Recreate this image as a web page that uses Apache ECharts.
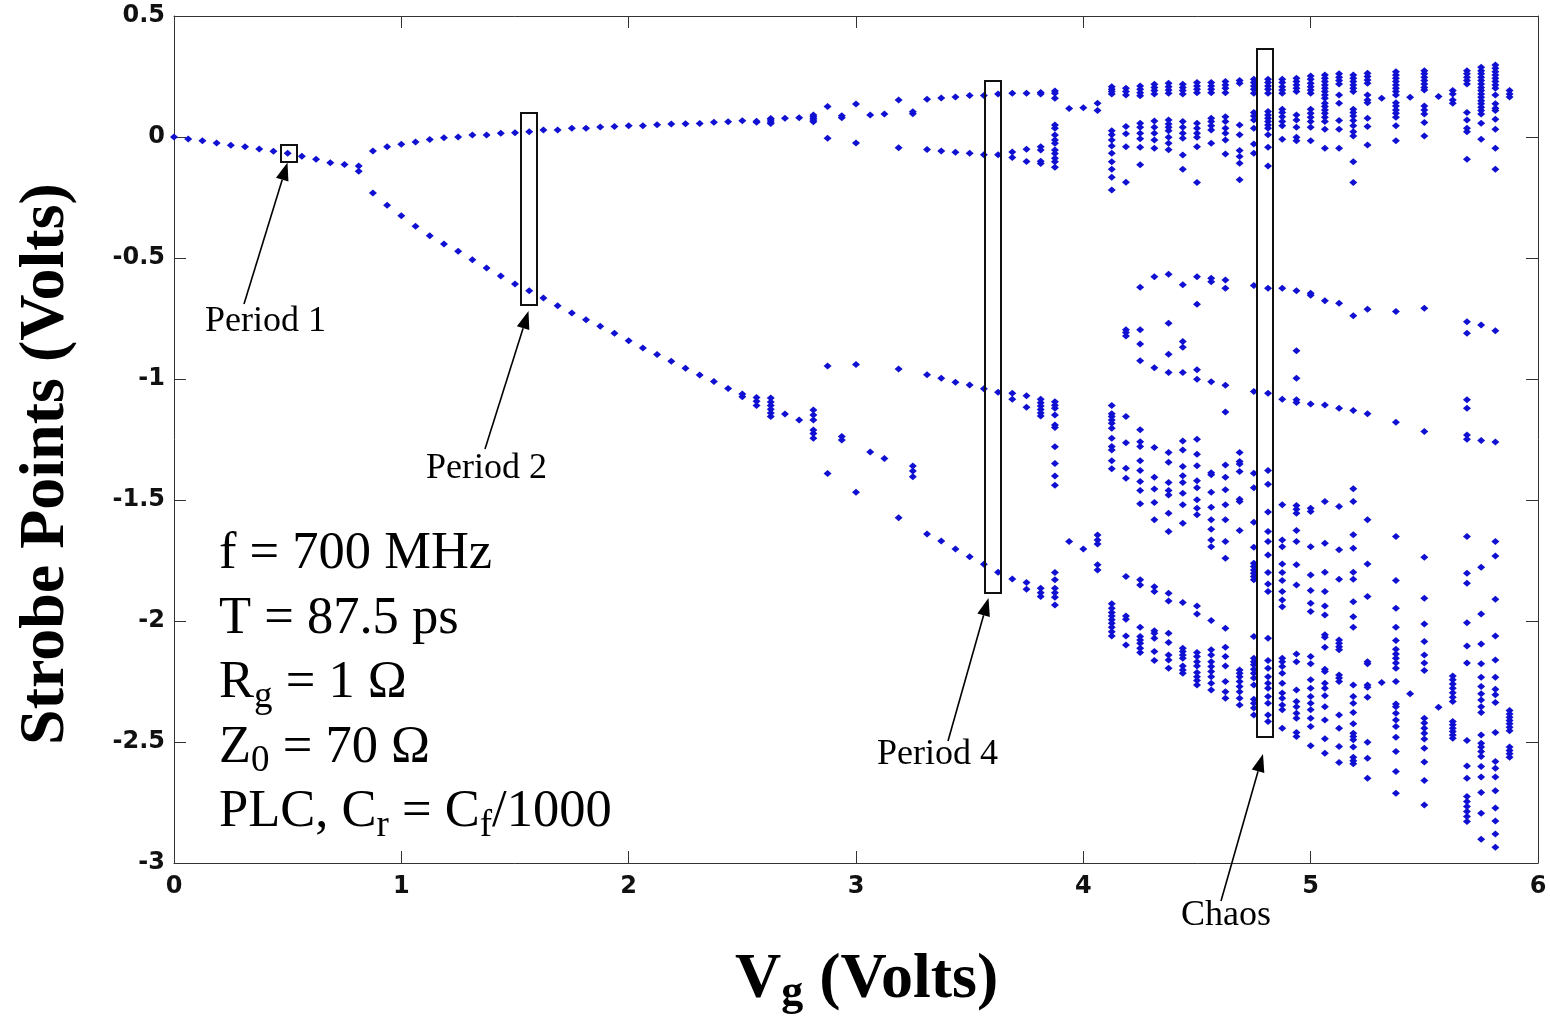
<!DOCTYPE html>
<html>
<head>
<meta charset="utf-8">
<script src="https://cdn.jsdelivr.net/npm/echarts@6/dist/echarts.min.js"></script>
<style>
html,body{margin:0;padding:0;background:#fff;}
#chart{width:1550px;height:1024px;}
</style>
</head>
<body>
<div id="chart"></div>
<script>
// ---------------- DATA ----------------
// Each row: [Vg, strobe value 1, strobe value 2, ...]
const xTickValues = [0, 1, 2, 3, 4, 5, 6];
const yTickValues = [0.5, 0, -0.5, -1, -1.5, -2, -2.5, -3];

const period1Points = [
  [0, 0], [0.0625, -0.008], [0.125, -0.015], [0.1875, -0.025], [0.25, -0.034],
  [0.3125, -0.040], [0.375, -0.050], [0.4375, -0.059], [0.5, -0.067], [0.5625, -0.080],
  [0.625, -0.092], [0.6875, -0.106], [0.75, -0.114], [0.8125, -0.120, -0.142]
];

const period2Points = [
  [0.875, -0.058, -0.231], [0.9375, -0.040, -0.282], [1.0, -0.030, -0.325],
  [1.0625, -0.021, -0.369], [1.125, -0.010, -0.408], [1.1875, -0.003, -0.442],
  [1.25, 0.000, -0.472], [1.3125, 0.008, -0.507], [1.375, 0.008, -0.541],
  [1.4375, 0.015, -0.574], [1.5, 0.018, -0.607], [1.5625, 0.022, -0.635],
  [1.625, 0.029, -0.665], [1.6875, 0.029, -0.697], [1.75, 0.036, -0.727],
  [1.8125, 0.036, -0.755], [1.875, 0.041, -0.782], [1.9375, 0.043, -0.811],
  [2.0, 0.047, -0.842], [2.0625, 0.047, -0.872], [2.125, 0.051, -0.899],
  [2.1875, 0.054, -0.927], [2.25, 0.055, -0.956], [2.3125, 0.056, -0.983],
  [2.375, 0.061, -1.010], [2.4375, 0.063, -1.039], [2.5, 0.067, -1.062, -1.073],
  [2.5625, 0.065, 0.061, -1.076, -1.092, -1.109],
  [2.625, 0.076, 0.070, 0.062, 0.056, -1.079, -1.095, -1.110, -1.125, -1.140, -1.155],
  [2.6875, 0.077, -1.145], [2.75, 0.080, -1.169],
  [2.8125, 0.091, 0.084, 0.077, 0.070, 0.063, -1.128, -1.149, -1.169, -1.211, -1.225, -1.245]
];

const period4Points = [
  [2.875, 0.126, -0.005, -0.946, -1.390],
  [2.9375, 0.088, 0.080, -1.238, -1.252],
  [3.0, 0.136, -0.025, -0.940, -1.468],
  [3.0625, 0.091, -1.302],
  [3.125, 0.095, -1.329],
  [3.1875, 0.153, -0.044, -0.959, -1.573],
  [3.25, 0.104, 0.096, -1.360, -1.380, -1.404],
  [3.3125, 0.156, -0.052, -0.982, -1.640],
  [3.375, 0.161, -0.058, -0.997, -1.669],
  [3.4375, 0.165, -0.063, -1.013, -1.702],
  [3.5, 0.171, -0.067, -1.025, -1.735],
  [3.5625, 0.171, -0.073, -1.040, -1.766],
  [3.625, 0.178, -0.073, -1.055, -1.799],
  [3.6875, 0.181, -0.062, -0.085, -1.059, -1.084, -1.826],
  [3.75, 0.181, -0.051, -0.101, -1.069, -1.117, -1.841, -1.869],
  [3.8125, 0.184, 0.178, -0.040, -0.054, -0.100, -0.109, -1.084, -1.098, -1.112, -1.126, -1.140, -1.153, -1.865, -1.883, -1.899],
  [3.875, 0.190, 0.181, 0.160, 0.050, 0.036, 0.008, -0.012, -0.026, -0.054, -0.068, -0.088, -0.102, -0.125,
    -1.094, -1.108, -1.121, -1.149, -1.190, -1.200, -1.280, -1.349, -1.401, -1.439,
    -1.800, -1.830, -1.865, -1.883, -1.902, -1.934],
  [3.9375, 0.118, -1.672],
  [4.0, 0.121, -1.702],
  [4.0625, 0.139, 0.109, -1.645, -1.665, -1.682, -1.768, -1.789]
];

const chaosPoints = [
  [4.125, 0.208, 0.197, 0.188, 0.178, 0.026, 0.009, -0.012, -0.037, -0.067, -0.102, -0.133, -0.166, -0.219,
    -1.110, -1.144, -1.155, -1.169, -1.183, -1.203, -1.245, -1.279, -1.293, -1.338, -1.371,
    -1.929, -1.947, -1.965, -1.979, -1.995, -2.009, -2.026, -2.044, -2.062],
  [4.1875, 0.201, 0.188, 0.174, 0.043, 0.013, -0.040, -0.187, -0.797, -0.808, -0.822,
    -1.155, -1.263, -1.369, -1.410, -1.816, -1.979, -1.993, -2.062, -2.099],
  [4.25, 0.211, 0.197, 0.183, 0.170, 0.057, 0.040, 0.015, -0.007, -0.042, -0.115,
    -0.621, -0.797, -0.855, -0.925, -1.210, -1.259, -1.279, -1.338, -1.378, -1.424, -1.461, -1.516,
    -1.830, -1.851, -2.026, -2.064, -2.078, -2.092, -2.113, -2.130],
  [4.3125, 0.218, 0.205, 0.192, 0.178, 0.066, 0.040, 0.015, -0.012, -0.047, -0.577, -0.953,
    -1.283, -1.406, -1.455, -1.510, -1.582, -1.858, -1.878, -2.040, -2.051, -2.071, -2.126, -2.163],
  [4.375, 0.222, 0.208, 0.194, 0.181, 0.070, 0.054, 0.040, 0.026, -0.001, -0.026, -0.053,
    -0.567, -0.770, -0.898, -0.973, -1.304, -1.344, -1.428, -1.461, -1.479, -1.555, -1.630,
    -1.885, -1.917, -2.051, -2.089, -2.140, -2.161, -2.195],
  [4.4375, 0.218, 0.205, 0.192, 0.178, 0.064, 0.040, 0.015, -0.005, -0.074, -0.133,
    -0.611, -0.845, -0.869, -0.973, -1.256, -1.293, -1.362, -1.400, -1.428, -1.472, -1.520, -1.596,
    -1.924, -2.113, -2.126, -2.140, -2.154, -2.186, -2.202, -2.216],
  [4.5, 0.225, 0.211, 0.197, 0.183, 0.057, 0.036, 0.015, -0.001, -0.040, -0.188,
    -0.577, -0.691, -0.962, -1.001, -1.249, -1.311, -1.358, -1.420, -1.449, -1.499, -1.534, -1.561,
    -1.938, -1.971, -2.130, -2.147, -2.168, -2.186, -2.213, -2.230, -2.246, -2.264],
  [4.5625, 0.225, 0.211, 0.197, 0.183, 0.077, 0.064, 0.046, 0.029, -0.026,
    -0.584, -0.598, -1.011, -1.387, -1.396, -1.468, -1.530, -1.582, -1.621,
    -1.665, -1.693, -1.998, -2.119, -2.140, -2.168, -2.188, -2.209, -2.230, -2.257, -2.285],
  [4.625, 0.229, 0.215, 0.201, 0.183, 0.084, 0.064, 0.036, 0.015, -0.012, -0.070,
    -0.591, -0.625, -1.026, -1.136, -1.355, -1.406, -1.458, -1.520, -1.582,
    -1.672, -1.741, -2.030, -2.108, -2.147, -2.186, -2.250, -2.292, -2.319],
  [4.6875, 0.233, 0.222, 0.050, 0.009, -0.056, -0.081, -0.108, -0.177,
    -1.304, -1.341, -1.351, -1.382, -1.497, -1.506, -1.626,
    -2.202, -2.216, -2.230, -2.250, -2.271, -2.292, -2.319, -2.347],
  [4.75, 0.239, 0.225, 0.211, 0.197, 0.181, 0.101, 0.087, 0.070, 0.036, -0.029, -0.067,
    -0.614, -1.052, -1.389, -1.449, -1.592, -1.695, -1.761, -1.775, -1.789, -1.803, -1.816, -1.830,
    -2.064, -2.154, -2.168, -2.181, -2.199, -2.216, -2.236, -2.264, -2.323, -2.340, -2.360, -2.388],
  [4.8125, 0.239, 0.225, 0.211, 0.197, 0.181, 0.105, 0.091, 0.077, 0.064, 0.050, 0.036, 0.009, -0.042, -0.120,
    -0.625, -1.059, -1.378, -1.435, -1.550, -1.630, -1.672, -1.727, -1.800, -1.847, -1.878,
    -2.071, -2.163, -2.195, -2.230, -2.257, -2.278, -2.312, -2.340, -2.388, -2.415],
  [4.875, 0.239, 0.225, 0.208, 0.194, 0.181, 0.115, 0.101, 0.084, 0.064, 0.046, -0.009,
    -0.625, -1.084, -1.520, -1.665, -1.693, -1.764, -1.800, -1.833, -1.878, -1.913, -1.941,
    -2.154, -2.168, -2.188, -2.216, -2.257, -2.298, -2.319, -2.347, -2.367, -2.443],
  [4.9375, 0.243, 0.229, 0.215, 0.201, 0.188, 0.091, 0.070, 0.040, -0.001, -0.015,
    -0.635, -0.883, -0.997, -1.086, -1.097, -1.523, -1.538, -1.555, -1.626,
    -1.672, -1.768, -1.851, -2.136, -2.168, -2.285, -2.333, -2.354, -2.381, -2.402, -2.461, -2.477],
  [5.0, 0.252, 0.239, 0.222, 0.208, 0.194, 0.181, 0.115, 0.098, 0.082, 0.064, 0.040, -0.015,
    -0.646, -0.654, -1.103, -1.534, -1.548, -1.693, -1.810, -1.874, -1.927, -1.961,
    -2.147, -2.177, -2.243, -2.278, -2.312, -2.340, -2.367, -2.402, -2.436, -2.516],
  [5.0625, 0.256, 0.243, 0.229, 0.215, 0.201, 0.188, 0.174, 0.160, 0.139, 0.126, 0.112, 0.098, 0.082, 0.064, 0.032, -0.047,
    -0.677, -1.107, -1.506, -1.679, -1.799, -1.878, -1.938, -1.975, -2.057, -2.067, -2.108,
    -2.199, -2.209, -2.257, -2.278, -2.309, -2.354, -2.409, -2.487, -2.546],
  [5.125, 0.261, 0.247, 0.233, 0.219, 0.174, 0.139, 0.068, 0.032, -0.047,
    -0.687, -1.121, -1.527, -1.706, -1.827, -2.078, -2.092, -2.106, -2.119,
    -2.223, -2.236, -2.250, -2.388, -2.443, -2.519, -2.585],
  [5.1875, 0.256, 0.243, 0.229, 0.215, 0.201, 0.188, 0.115, 0.101, 0.087, 0.068, 0.046, 0.022, 0.004, -0.102, -0.188,
    -0.739, -1.130, -1.454, -1.506, -1.644, -1.699, -1.799, -1.827, -1.920, -1.982, -2.026,
    -2.264, -2.312, -2.340, -2.378, -2.425, -2.464, -2.477, -2.491, -2.521, -2.563, -2.577, -2.590],
  [5.25, 0.263, 0.250, 0.236, 0.222, 0.174, 0.153, 0.142, 0.077, 0.043, -0.033,
    -0.712, -1.144, -1.582, -1.764, -1.899, -2.168, -2.177, -2.264, -2.274, -2.315, -2.501, -2.567, -2.650],
  [5.3125, 0.160, -2.254],
  [5.375, 0.270, 0.256, 0.243, 0.229, 0.215, 0.201, 0.188, 0.174, 0.142, 0.128, 0.112, 0.098, 0.082, 0.046, -0.015,
    -0.721, -1.179, -1.651, -1.833, -1.947, -2.026, -2.081, -2.117, -2.136, -2.154, -2.174, -2.195,
    -2.250, -2.343, -2.354, -2.381, -2.409, -2.436, -2.480, -2.539, -2.622, -2.712],
  [5.4375, 0.164, -2.301],
  [5.5, 0.274, 0.261, 0.247, 0.233, 0.219, 0.205, 0.194, 0.128, 0.112, 0.095, 0.060, 0.004,
    -0.708, -1.217, -1.737, -1.906, -2.012, -2.085, -2.140, -2.174, -2.205,
    -2.402, -2.422, -2.443, -2.464, -2.488, -2.526, -2.583, -2.659, -2.760],
  [5.5625, 0.167, -2.356],
  [5.625, 0.192, 0.178, 0.153, 0.139, -2.227, -2.243, -2.260, -2.278, -2.296, -2.315, -2.333,
    -2.415, -2.429, -2.443, -2.457, -2.471, -2.484],
  [5.6875, 0.274, 0.261, 0.247, 0.233, 0.219, 0.101, 0.070, 0.036, 0.022, -0.092,
    -0.763, -0.811, -1.086, -1.121, -1.231, -1.249, -1.651, -1.803, -1.844, -2.007, -2.103, -2.174,
    -2.494, -2.599, -2.650, -2.725, -2.746, -2.767, -2.787, -2.808, -2.829],
  [5.75, 0.288, 0.274, 0.261, 0.247, 0.233, 0.219, 0.205, 0.192, 0.178, 0.164, 0.150, 0.137, 0.123, 0.109, 0.095, 0.057, -0.009,
    -0.777, -1.254, -1.778, -1.971, -2.095, -2.177, -2.232, -2.271, -2.301, -2.326, -2.354, -2.378,
    -2.471, -2.505, -2.521, -2.539, -2.560, -2.601, -2.645, -2.709, -2.794, -2.902],
  [5.8125, 0.298, 0.284, 0.270, 0.256, 0.243, 0.229, 0.215, 0.201, 0.174, 0.137, 0.119, 0.109, 0.073, 0.032, -0.047, -0.133,
    -0.801, -1.260, -1.672, -1.731, -1.910, -2.062, -2.161, -2.232, -2.282, -2.305, -2.337,
    -2.461, -2.581, -2.608, -2.645, -2.701, -2.773, -2.826, -2.880, -2.935],
  [5.875, 0.192, 0.178, 0.165, -2.370, -2.384, -2.398, -2.411, -2.425, -2.439, -2.453,
    -2.521, -2.535, -2.549, -2.563]
];

// ---------------- BUILD ----------------
function flatten(rows) {
  const out = [];
  rows.forEach(r => { for (let i = 1; i < r.length; i++) out.push([r[0], r[i]]); });
  return out;
}
const allPoints = [].concat(flatten(period1Points), flatten(period2Points),
                            flatten(period4Points), flatten(chaosPoints));

const chart = echarts.init(document.getElementById('chart'), null, {renderer: 'canvas'});

const SERIF = "'Liberation Serif', 'Times New Roman', serif";
const SANS = "'DejaVu Sans', 'Liberation Sans', sans-serif";
const AX = '#333';

function axisCommon(showLabel, pos) {
  return {
    type: 'value',
    position: pos,
    axisLine: {show: true, onZero: false, lineStyle: {color: AX, width: 1}},
    axisTick: {show: true, inside: true, length: 12, lineStyle: {color: AX, width: 1}},
    splitLine: {show: false},
    axisLabel: {show: showLabel, color: '#111', fontFamily: SANS, fontSize: 24, fontWeight: 'bold'}
  };
}

const xMain = Object.assign(axisCommon(true, 'bottom'), {min: 0, max: 6, interval: 1});
xMain.axisLabel.margin = 12;
const xTop = Object.assign(axisCommon(false, 'top'), {min: 0, max: 6, interval: 1});
const yMain = Object.assign(axisCommon(true, 'left'), {min: -3, max: 0.5, interval: 0.5});
yMain.axisLabel.margin = 9;
const yRight = Object.assign(axisCommon(false, 'right'), {min: -3, max: 0.5, interval: 0.5});

// annotation helpers (pixel layout)
function arrow(x1, y1, x2, y2) {
  const dx = x2 - x1, dy = y2 - y1, L = Math.hypot(dx, dy);
  const ux = dx / L, uy = dy / L, hl = 18, hw = 6.5;
  const bx = x2 - ux * hl, by = y2 - uy * hl;
  return [
    {type: 'line', z: 100, shape: {x1: x1, y1: y1, x2: bx, y2: by},
     style: {stroke: '#000', lineWidth: 1.6}},
    {type: 'polygon', z: 100, shape: {points: [[x2, y2], [bx - uy * hw, by + ux * hw], [bx + uy * hw, by - ux * hw]]},
     style: {fill: '#000'}}
  ];
}
function box(x, y, w, h) {
  return {type: 'rect', z: 100, shape: {x: x, y: y, width: w, height: h},
          style: {fill: 'rgba(0,0,0,0)', stroke: '#111', lineWidth: 2}};
}
function label(text, x, baseline, size) {
  return {type: 'text', z: 100, style: {text: text, x: x, y: baseline - 0.3375 * size,
          font: size + 'px ' + SERIF, fill: '#000', align: 'left', verticalAlign: 'middle'}};
}

const graphics = [].concat(
  box(281, 145, 16, 17), box(521, 113, 16, 192), box(985, 81, 16, 512), box(1257, 49, 16, 688),
  arrow(244, 304, 287.5, 162.5), arrow(485, 449, 528.5, 311),
  arrow(948, 741, 988.5, 598), arrow(1221, 901, 1263, 754),
  [
    label('Period 1', 205, 334, 36),
    label('Period 2', 426, 481, 36),
    label('Period 4', 877, 767, 36),
    label('Chaos', 1181, 928, 36),
    {
      type: 'text', z: 100,
      style: {
        x: 219, y: 522, align: 'left', verticalAlign: 'top',
        text: '{m|f = 700 MHz}\n{m|T = 87.5 ps}\n{m|R}{s|g}{m| = 1 Ω}\n{m|Z}{s|0}{m| = 70 Ω}\n{m|PLC, C}{s|r}{m| = C}{s|f}{m|/1000}',
        rich: {
          m: {fontFamily: SERIF, fontSize: 52.5, lineHeight: 64.5, fill: '#000', color: '#000'},
          s: {fontFamily: SERIF, fontSize: 37, lineHeight: 29, verticalAlign: 'bottom', fill: '#000', color: '#000'}
        }
      }
    },
    {
      type: 'text', z: 100,
      style: {
        x: 735, y: 945.5, align: 'left', verticalAlign: 'top',
        text: '{m|V}{s|g}{m| (Volts)}',
        rich: {
          m: {fontFamily: SERIF, fontWeight: 'bold', fontSize: 64, lineHeight: 70, fill: '#000', color: '#000'},
          s: {fontFamily: SERIF, fontWeight: 'bold', fontSize: 44, lineHeight: 33, verticalAlign: 'bottom', fill: '#000', color: '#000'}
        }
      }
    },
    {
      type: 'text', z: 100, x: 46, y: 464, rotation: Math.PI / 2,
      style: {text: 'Strobe Points (Volts)', x: 0, y: 0, align: 'center', verticalAlign: 'middle',
              font: 'bold 64px ' + SERIF, fill: '#000'}
    }
  ]
);

chart.setOption({
  animation: false,
  backgroundColor: '#fff',
  grid: {left: 174, right: 12, top: 16, bottom: 161, containLabel: false},
  xAxis: [xMain, xTop],
  yAxis: [yMain, yRight],
  series: [{
    type: 'scatter',
    xAxisIndex: 0, yAxisIndex: 0,
    data: allPoints,
    symbol: 'diamond',
    symbolSize: [8, 7],
    itemStyle: {color: '#1010d2', opacity: 1},
    silent: true,
    emphasis: {disabled: true}
  }],
  graphic: graphics
});
</script>
</body>
</html>
